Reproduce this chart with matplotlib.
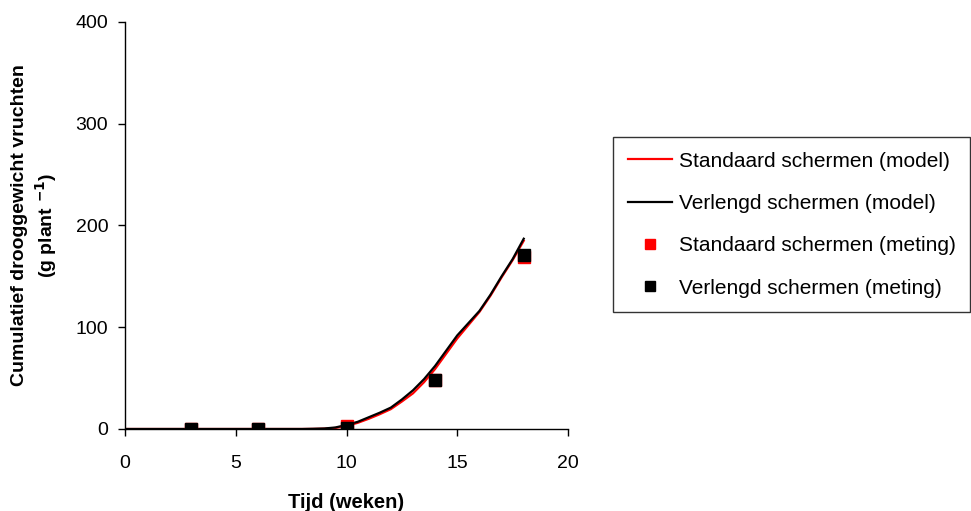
import matplotlib
matplotlib.use("Agg")
import matplotlib.pyplot as plt

plt.rcParams['font.family'] = ['Liberation Sans', 'DejaVu Sans']

# Model output (weeks, g per plant)
model_weeks = [0, 1, 2, 3, 4, 5, 6, 7, 8, 8.5, 9, 9.5, 10, 10.5, 11, 11.5, 12, 12.5,
               13, 13.5, 14, 14.5, 15, 15.5, 16, 16.5, 17, 17.5, 18]
model_standaard = [0, 0, 0, 0, 0, 0, 0, 0, 0, 0.1, 0.3, 1.0, 3.0, 6.0, 10.0, 14.5, 19.5, 27.0,
                   35.0, 46.0, 59.0, 74.0, 89.0, 102.0, 115.0, 131.0, 149.0, 166.0, 185.0]
model_verlengd = [0, 0, 0, 0, 0, 0, 0, 0, 0, 0.2, 0.5, 1.5, 4.0, 7.0, 11.5, 16.0, 21.0, 29.0,
                  38.0, 49.0, 62.0, 77.0, 92.0, 104.0, 116.0, 132.0, 150.0, 167.0, 187.0]

# Measurements
meas_weeks = [3, 6, 10, 14, 18]
meas_standaard = [0, 0, 3, 48, 169]
meas_verlengd = [0, 0, 1, 48, 171]

fig = plt.figure(figsize=(9.71, 5.11), dpi=100)
ax = fig.add_axes([0.1287, 0.1605, 0.4563, 0.7965])

l1, = ax.plot(model_weeks, model_standaard, color='#ff0000', lw=1.6, label='Standaard schermen (model)')
l2, = ax.plot(model_weeks, model_verlengd, color='black', lw=1.6, label='Verlengd schermen (model)')
m1, = ax.plot(meas_weeks, meas_standaard, ls='none', marker='s', ms=8, color='#ff0000',
              label='Standaard schermen (meting)')
m2, = ax.plot(meas_weeks, meas_verlengd, ls='none', marker='s', ms=8, color='black',
              label='Verlengd schermen (meting)')

ax.set_xlim(0, 20)
ax.set_ylim(0, 400)
ax.set_xticks([0, 5, 10, 15, 20])
ax.set_yticks([0, 100, 200, 300, 400])
for s in ['top', 'right']:
    ax.spines[s].set_visible(False)
for s in ['left', 'bottom']:
    ax.spines[s].set_color('black')
    ax.spines[s].set_linewidth(1.0)
ax.tick_params(direction='out', length=5, width=1, labelsize=14)
ax.tick_params(axis='x', pad=14)
ax.tick_params(axis='y', pad=7)

ax.set_xlabel('Tijd (weken)', fontsize=14.5, fontweight='bold', labelpad=15)
ax.set_ylabel('Cumulatief drooggewicht vruchten\n(g plant $^{\\mathbf{-1}}$)',
              fontsize=14, fontweight='bold', labelpad=12, linespacing=1.25)

leg = fig.legend(handles=[l1, l2, m1, m2], loc='upper left',
                 bbox_to_anchor=(613 / 971, 1 - 137 / 511), bbox_transform=fig.transFigure,
                 fontsize=15, frameon=True, fancybox=False, shadow=False,
                 labelspacing=1.12, handlelength=2.15, handletextpad=0.3,
                 borderpad=0.7, borderaxespad=0, markerscale=0.9)
leg.get_frame().set_edgecolor('black')
leg.get_frame().set_linewidth(1.0)

fig.savefig('out.png', dpi=100)
